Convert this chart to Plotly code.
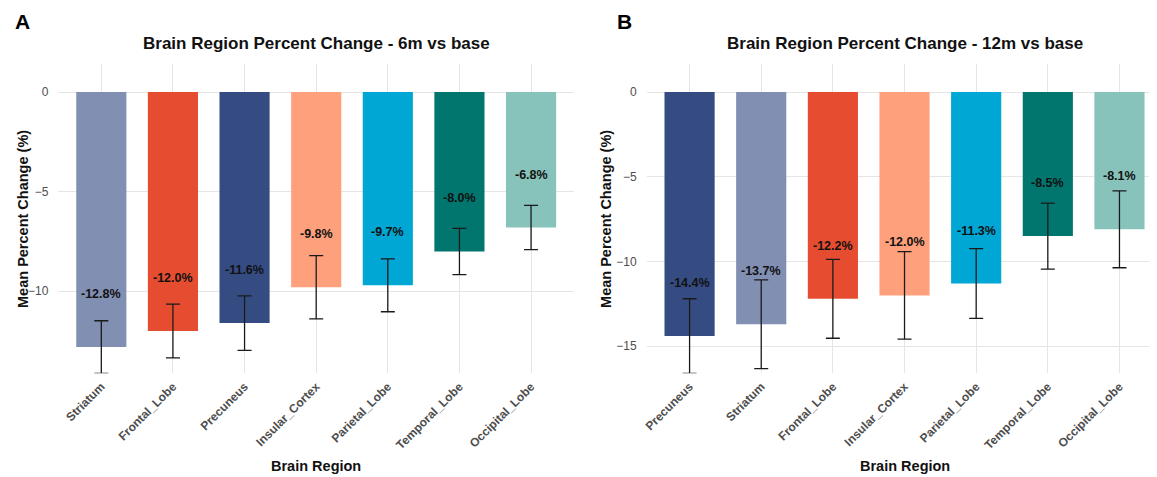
import plotly.graph_objects as go

# ---- data ----
regions_6m = ["Striatum", "Frontal_Lobe", "Precuneus", "Insular_Cortex",
              "Parietal_Lobe", "Temporal_Lobe", "Occipital_Lobe"]
mean_6m = [-12.8, -12.0, -11.6, -9.8, -9.7, -8.0, -6.8]
se_6m = [1.32, 1.35, 1.37, 1.59, 1.33, 1.16, 1.11]

regions_12m = ["Precuneus", "Striatum", "Frontal_Lobe", "Insular_Cortex",
               "Parietal_Lobe", "Temporal_Lobe", "Occipital_Lobe"]
mean_12m = [-14.4, -13.7, -12.2, -12.0, -11.3, -8.5, -8.1]
se_12m = [2.2, 2.62, 2.33, 2.58, 2.06, 1.95, 2.27]

region_colors = {
    "Striatum": "#818FB2",
    "Frontal_Lobe": "#E64D30",
    "Precuneus": "#354C83",
    "Insular_Cortex": "#FFA07D",
    "Parietal_Lobe": "#00A6D4",
    "Temporal_Lobe": "#00766E",
    "Occipital_Lobe": "#88C3BB",
}

panel_titles = ["Brain Region Percent Change - 6m vs base",
                "Brain Region Percent Change - 12m vs base"]
panel_tags = ["A", "B"]
y_title = "Mean Percent Change (%)"
x_title = "Brain Region"

# page body has an 8px margin; work in page pixels and subtract it
OFF = 8
W, H = 1157 - OFF, 477 - OFF
FONT = "Arial, Liberation Sans, sans-serif"


def px(x):
    return (x - OFF) / W


def py(y):
    return 1 - (y - OFF) / H


fig = go.Figure()

slot = 71.9
panel_top, panel_bot = 64.0, 373.3
panels = [
    (regions_6m, mean_6m, se_6m, "x", "y", (54.5, 572.0)),
    (regions_12m, mean_12m, se_12m, "x2", "y2", (644.8, 1162.7)),
]

annotations = []
for i, (cats, means, ses, xa, ya, (f0, f1)) in enumerate(panels):
    fig.add_trace(go.Bar(
        x=cats, y=means,
        marker=dict(color=[region_colors[c] for c in cats], line=dict(width=0)),
        width=0.7,
        error_y=dict(type="data", array=ses, visible=True, color="#1a1a1a",
                     thickness=1.3, width=7),
        xaxis=xa, yaxis=ya, showlegend=False, hoverinfo="skip",
    ))
    for c, m in zip(cats, means):
        annotations.append(dict(
            x=c, y=m, xref=xa, yref=ya, yshift=53, yanchor="middle",
            text=f"<b>{m:.1f}%</b>", showarrow=False,
            font=dict(family=FONT, size=12.5, color="#111111")))
    cx = px((f0 + f1) / 2)
    annotations.append(dict(x=cx, y=py(43), xref="paper", yref="paper",
                            text=f"<b>{panel_titles[i]}</b>", showarrow=False,
                            xanchor="center", yanchor="middle",
                            font=dict(family=FONT, size=17, color="#111111")))
    annotations.append(dict(x=px(9 if i == 0 else 613), y=py(22),
                            xref="paper", yref="paper", text=f"<b>{panel_tags[i]}</b>",
                            showarrow=False, xanchor="left", yanchor="middle",
                            font=dict(family=FONT, size=21, color="#000000")))
    annotations.append(dict(x=cx, y=py(466), xref="paper", yref="paper",
                            text=f"<b>{x_title}</b>", showarrow=False,
                            xanchor="center", yanchor="middle",
                            font=dict(family=FONT, size=14.5, color="#111111")))
    annotations.append(dict(x=px(19 if i == 0 else 604), y=py(219),
                            xref="paper", yref="paper",
                            text=f"<b>{y_title}</b>", showarrow=False, textangle=-90,
                            xanchor="center", yanchor="middle",
                            font=dict(family=FONT, size=14.5, color="#111111")))

ydom = [py(panel_bot), py(panel_top)]


def yrange(means, ses):
    lo = min(m - s for m, s in zip(means, ses))
    return [lo, -0.1 * lo]


axis_common = dict(showgrid=True, gridcolor="#E5E5E5", gridwidth=1, zeroline=False,
                   showline=False, ticks="")
xtick_font = dict(family=FONT, size=12, color="#4D4D4D", weight="bold")
ytick_font = dict(family=FONT, size=12, color="#4D4D4D")

fig.update_layout(
    width=W, height=H,
    margin=dict(l=0, r=0, t=0, b=0),
    paper_bgcolor="white", plot_bgcolor="white",
    xaxis=dict(domain=[px(54.5), px(572.0)], anchor="y", range=[-0.6, 6.6],
               type="category", tickangle=-45, tickfont=xtick_font,
               ticklabelstandoff=3,
               categoryorder="array", categoryarray=regions_6m, **axis_common),
    yaxis=dict(domain=ydom, anchor="x", range=yrange(mean_6m, se_6m),
               tickvals=[0, -5, -10], tickfont=ytick_font, ticklabelstandoff=9,
               **axis_common),
    xaxis2=dict(domain=[px(644.8), 1.0], anchor="y2",
                range=[-0.6, -0.6 + (1157.0 - 644.8) / slot],
                type="category", tickangle=-45, tickfont=xtick_font,
                ticklabelstandoff=3,
                categoryorder="array", categoryarray=regions_12m, **axis_common),
    yaxis2=dict(domain=ydom, anchor="x2", range=yrange(mean_12m, se_12m),
                tickvals=[0, -5, -10, -15], tickfont=ytick_font, ticklabelstandoff=9,
                **axis_common),
    annotations=annotations,
)

fig.write_html("out.html")
